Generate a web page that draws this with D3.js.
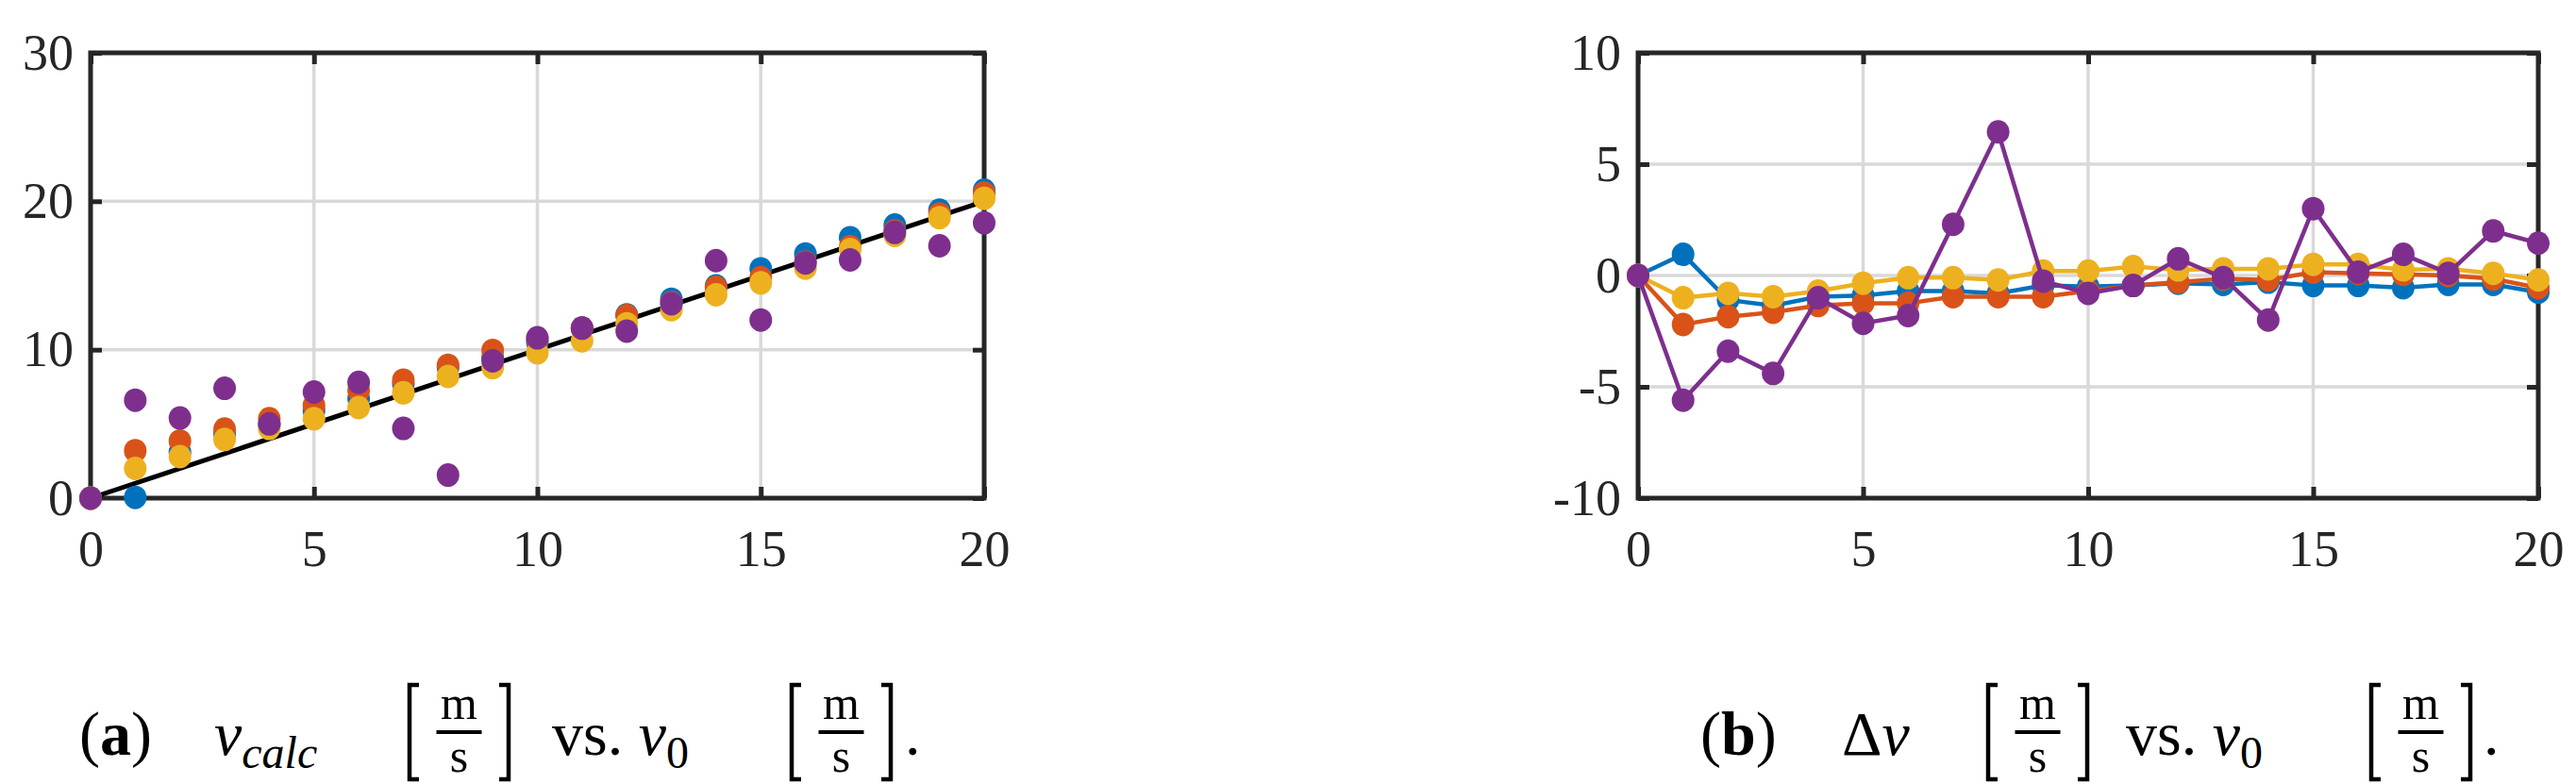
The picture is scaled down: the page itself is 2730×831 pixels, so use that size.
<!DOCTYPE html>
<html><head><meta charset="utf-8">
<script src="https://cdn.jsdelivr.net/npm/d3@7"></script>
<style>body{margin:0;background:#fff}svg{display:block}</style>
</head><body>
<svg id="c" width="2730" height="831"></svg>
<script>
const xs = d3.range(0, 21);
const dvBlue   = [0,0.95,-1.1,-1.35,-0.95,-0.9,-0.7,-0.7,-0.8,-0.45,-0.5,-0.45,-0.35,-0.4,-0.3,-0.45,-0.45,-0.55,-0.4,-0.4,-0.75];
const dvOrange = [0,-2.2,-1.85,-1.65,-1.35,-1.25,-1.25,-0.95,-0.95,-0.95,-0.7,-0.45,-0.3,-0.15,-0.2,0.15,0.1,0.05,0,-0.15,-0.55];
const dvYellow = [0,-1.0,-0.8,-0.95,-0.7,-0.35,-0.1,-0.1,-0.2,0.2,0.2,0.4,0.25,0.3,0.3,0.5,0.5,0.25,0.3,0.1,-0.2];
const dvPurple = [0,-5.6,-3.4,-4.4,-1.0,-2.15,-1.8,2.3,6.45,-0.25,-0.8,-0.45,0.75,-0.1,-2.0,3.0,0.15,0.95,0.1,2.0,1.45];
const seriesNames = ["blue","orange","yellow","purple"];
const seriesColors = ["#0072BD","#D95319","#EDB120","#7E2F8E"];
const seriesDv = [dvBlue, dvOrange, dvYellow, dvPurple];
const xTicks = [0,5,10,15,20];
const yTicksA = [0,10,20,30];
const yTicksB = [-10,-5,0,5,10];

const svg = d3.select("#c");
const FONT = "'Liberation Serif','DejaVu Serif',serif";

function panel(x0, x1, yDom, yTicks, gridY) {
  const top = 56, bot = 528;
  const x = d3.scaleLinear().domain([0,20]).range([x0,x1]);
  const y = d3.scaleLinear().domain(yDom).range([bot,top]);
  const g = svg.append("g");
  g.selectAll(".gx").data([5,10,15]).join("line").attr("x1",d=>x(d)).attr("x2",d=>x(d))
    .attr("y1",top).attr("y2",bot).attr("stroke","#d9d9d9").attr("stroke-width",3.5);
  g.selectAll(".gy").data(gridY).join("line").attr("y1",d=>y(d)).attr("y2",d=>y(d))
    .attr("x1",x0).attr("x2",x1).attr("stroke","#d9d9d9").attr("stroke-width",3.5);
  const ax = g.append("g").attr("transform",`translate(0,${bot})`)
    .call(d3.axisBottom(x).tickValues(xTicks).tickSizeInner(-12).tickSizeOuter(0).tickPadding(34));
  const ay = g.append("g").attr("transform",`translate(${x0},0)`)
    .call(d3.axisLeft(y).tickValues(yTicks).tickSizeInner(-12).tickSizeOuter(0).tickPadding(18));
  const ax2 = g.append("g").attr("transform",`translate(0,${top})`)
    .call(d3.axisTop(x).tickValues(xTicks).tickSizeInner(-12).tickSizeOuter(0).tickFormat(""));
  const ay2 = g.append("g").attr("transform",`translate(${x1},0)`)
    .call(d3.axisRight(y).tickValues(yTicks).tickSizeInner(-12).tickSizeOuter(0).tickFormat(""));
  [ax,ay,ax2,ay2].forEach(a=>{
    a.select(".domain").remove();
    a.selectAll("line").attr("stroke","#262626").attr("stroke-width",5);
    a.selectAll("text").attr("font-family",FONT).attr("font-size",54).attr("fill","#262626");
  });
  g.append("rect").attr("x",x0).attr("y",top).attr("width",x1-x0).attr("height",bot-top)
    .attr("fill","none").attr("stroke","#262626").attr("stroke-width",5);
  return {x,y,g};
}

const A = panel(96, 1043, [0,30], yTicksA, [10,20]);
A.g.append("line").attr("x1",A.x(0)).attr("y1",A.y(0)).attr("x2",A.x(20)).attr("y2",A.y(20))
  .attr("stroke","#000").attr("stroke-width",5);
seriesDv.forEach((dv,i)=>{
  A.g.selectAll(null).data(xs).join("ellipse")
    .attr("cx",d=>A.x(d)).attr("cy",d=>A.y(d - dv[d])).attr("rx",12).attr("ry",12.5)
    .attr("fill",seriesColors[i]);
});

const B = panel(1736, 2690, [-10,10], yTicksB, [-5,0,5]);
seriesDv.forEach((dv,i)=>{
  const line = d3.line().x(d=>B.x(d)).y(d=>B.y(dv[d]));
  B.g.append("path").datum(xs).attr("d",line).attr("fill","none")
    .attr("stroke",seriesColors[i]).attr("stroke-width",4.5);
  B.g.selectAll(null).data(xs).join("ellipse")
    .attr("cx",d=>B.x(d)).attr("cy",d=>B.y(dv[d])).attr("rx",12).attr("ry",12.5)
    .attr("fill",seriesColors[i]);
});
B.g.selectAll("text").text(function(){return this.textContent.replace("−","-");});

// Captions
const BASE = 800, FS = 66;
function txt(x, spans) {
  const t = svg.append("text").attr("font-family",FONT).attr("font-size",FS).attr("x",x).attr("y",BASE);
  spans.forEach(s=>{
    const sp = t.append("tspan").text(s.t);
    if (s.i) sp.attr("font-style","italic");
    if (s.b) sp.attr("font-weight","bold");
    if (s.sub) sp.attr("font-size",48).attr("dy",14);
  });
}
function frac(xl, xr) {
  const h1 = BASE-74, h2 = BASE+26, mid=(xl+xr)/2;
  const br = (xx,dir)=>svg.append("path")
    .attr("d",`M${xx+dir*10},${h1} L${xx},${h1} L${xx},${h2} L${xx+dir*10},${h2}`)
    .attr("fill","none").attr("stroke","#000").attr("stroke-width",4.5);
  br(xl,1); br(xr,-1);
  svg.append("text").attr("font-family",FONT).attr("font-size",50).attr("x",mid).attr("y",BASE-38)
    .attr("text-anchor","middle").text("m");
  svg.append("line").attr("x1",mid-24).attr("x2",mid+24).attr("y1",BASE-24).attr("y2",BASE-24)
    .attr("stroke","#000").attr("stroke-width",4);
  svg.append("text").attr("font-family",FONT).attr("font-size",50).attr("x",mid).attr("y",BASE+18)
    .attr("text-anchor","middle").text("s");
}
function caption(x0, label, first, o) {
  txt(x0, [{t:"("},{t:label,b:true},{t:")"}]);
  txt(x0+o.v, first);
  frac(x0+o.b1, x0+o.b1+105);
  txt(x0+o.vs, [{t:"vs. "},{t:"v",i:true},{t:"0",sub:true}]);
  frac(x0+o.b2, x0+o.b2+105);
  txt(x0+o.dot, [{t:"."}]);
}
caption(84, "a", [{t:"v",i:true},{t:"calc",i:true,sub:true}], {v:143,b1:350,vs:501,b2:755,dot:875});
caption(1802, "b", [{t:"Δ"},{t:"v",i:true}], {v:150,b1:305,vs:451,b2:711,dot:830});
</script>
</body></html>
